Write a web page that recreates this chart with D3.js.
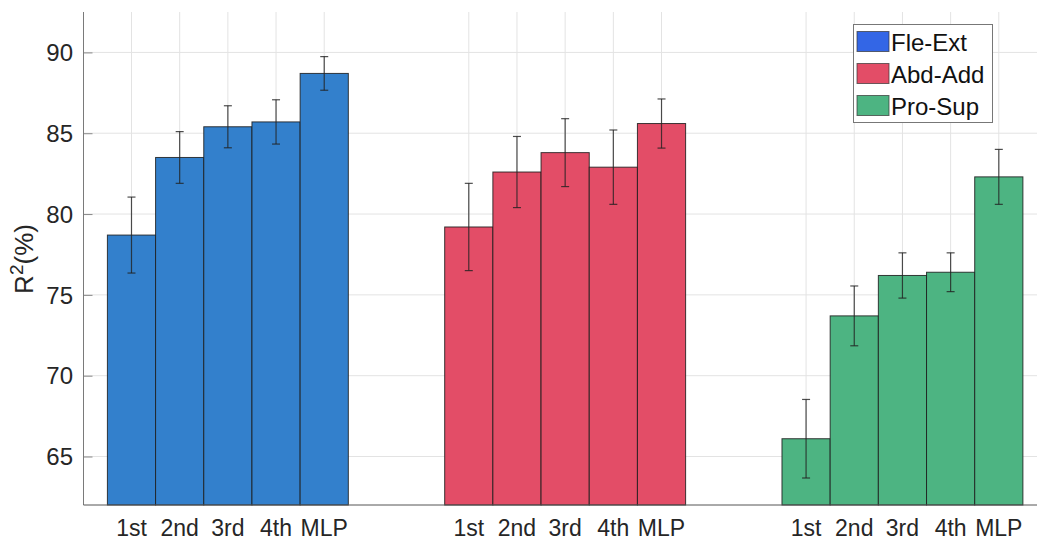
<!DOCTYPE html>
<html>
<head>
<meta charset="utf-8">
<script src="https://cdn.jsdelivr.net/npm/d3@7"></script>
<style>
  html, body { margin: 0; padding: 0; background: #fff; }
  svg { display: block; font-family: "Liberation Sans", Arial, Helvetica, sans-serif; }
</style>
</head>
<body>
<svg id="chart" width="1037" height="541"></svg>
<script>
// Motion groups and the feature/model levels within each group
const groups = ["Fle-Ext", "Abd-Add", "Pro-Sup"];
const levels = ["1st", "2nd", "3rd", "4th", "MLP"];

// Mean R^2 (%) per level, one array per group
const fleExt = [78.7, 83.5, 85.4, 85.7, 88.7];
const abdAdd = [79.2, 82.6, 83.8, 82.9, 85.6];
const proSup = [66.1, 73.7, 76.2, 76.4, 82.3];

// Standard deviation (half-length of each error bar)
const fleExtErr = [2.35, 1.6, 1.3, 1.37, 1.04];
const abdAddErr = [2.7, 2.2, 2.1, 2.3, 1.52];
const proSupErr = [2.43, 1.85, 1.4, 1.2, 1.7];

const yTicks = [65, 70, 75, 80, 85, 90];

const barColors = ["#3380CC", "#E34D67", "#4DB482"];
const legendColors = ["#3366E6", "#E34D67", "#4DB482"];

const series = [fleExt, abdAdd, proSup];
const seriesErr = [fleExtErr, abdAddErr, proSupErr];

const svg = d3.select("#chart");
const W = 1037;
const plotLeft = 83.5, plotTop = 12, plotBottom = 505;

// Groups sit at 1, 2, 3 on a continuous axis; bars fill 5/7 of a unit
const x = d3.scaleLinear().domain([0.572, 3.428]).range([plotLeft, 1046.8]);
const y = d3.scaleLinear().domain([62, 92.5]).range([plotBottom, plotTop]);
const barW = x(1 / 7) - x(0);
const barX = (g, i) => x(g + 1 + (i - 2) / 7);

const bars = [];
series.forEach((vals, g) => {
  vals.forEach((v, i) => {
    bars.push({ g, i, v, e: seriesErr[g][i], cx: barX(g, i) });
  });
});

// Grid
const grid = svg.append("g");
grid.selectAll("line.h").data(yTicks).join("line")
  .attr("class", "h")
  .attr("x1", plotLeft).attr("x2", W)
  .attr("y1", d => y(d)).attr("y2", d => y(d))
  .attr("stroke", "#e3e3e3").attr("stroke-width", 1);
grid.selectAll("line.v").data(bars).join("line")
  .attr("class", "v")
  .attr("x1", d => d.cx).attr("x2", d => d.cx)
  .attr("y1", plotTop).attr("y2", plotBottom)
  .attr("stroke", "#e3e3e3").attr("stroke-width", 1);

// Bars
svg.append("g").selectAll("rect").data(bars).join("rect")
  .attr("x", d => d.cx - barW / 2)
  .attr("y", d => y(d.v))
  .attr("width", barW)
  .attr("height", d => y(62) - y(d.v))
  .attr("fill", d => barColors[d.g])
  .attr("stroke", "#1c1c1c")
  .attr("stroke-opacity", 0.85)
  .attr("stroke-width", 1);

// Error bars
const eb = svg.append("g").attr("stroke", "#222").attr("stroke-opacity", 0.8).attr("stroke-width", 1.2);
eb.selectAll("line.stem").data(bars).join("line")
  .attr("class", "stem")
  .attr("x1", d => d.cx).attr("x2", d => d.cx)
  .attr("y1", d => y(d.v + d.e)).attr("y2", d => y(d.v - d.e));
eb.selectAll("line.capT").data(bars).join("line")
  .attr("class", "capT")
  .attr("x1", d => d.cx - 4).attr("x2", d => d.cx + 4)
  .attr("y1", d => y(d.v + d.e)).attr("y2", d => y(d.v + d.e));
eb.selectAll("line.capB").data(bars).join("line")
  .attr("class", "capB")
  .attr("x1", d => d.cx - 4).attr("x2", d => d.cx + 4)
  .attr("y1", d => y(d.v - d.e)).attr("y2", d => y(d.v - d.e));

// Y axis (inward ticks)
const yAxis = svg.append("g").attr("transform", `translate(${plotLeft},0)`)
  .call(d3.axisRight(y).tickValues(yTicks).tickSize(9).tickFormat(""));
yAxis.select(".domain").remove();
yAxis.selectAll(".tick line").attr("stroke", "#888");
svg.append("line").attr("x1", plotLeft).attr("x2", plotLeft).attr("y1", plotTop).attr("y2", plotBottom)
  .attr("stroke", "#7a7a7a").attr("stroke-width", 1);
svg.append("g").selectAll("text").data(yTicks).join("text")
  .attr("x", 73).attr("y", d => y(d)).attr("dy", "0.36em")
  .attr("text-anchor", "end").attr("font-size", 24).attr("fill", "#262626")
  .text(d => d);

// X baseline
svg.append("line").attr("x1", plotLeft).attr("x2", W).attr("y1", plotBottom).attr("y2", plotBottom)
  .attr("stroke", "#555").attr("stroke-width", 1);

// Level labels under each bar
svg.append("g").selectAll("text").data(bars).join("text")
  .attr("x", d => d.cx).attr("y", 536)
  .attr("text-anchor", "middle").attr("font-size", 23).attr("fill", "#262626")
  .text(d => levels[d.i]);

// Y axis title
const yt = svg.append("text")
  .attr("transform", "translate(33,259) rotate(-90)")
  .attr("text-anchor", "middle").attr("font-size", 26).attr("fill", "#262626");
yt.append("tspan").text("R");
yt.append("tspan").attr("font-size", 19).attr("dy", -10).text("2");
yt.append("tspan").attr("dy", 10).text("(%)");

// Legend
const lg = svg.append("g");
lg.append("rect").attr("x", 853.5).attr("y", 24.5).attr("width", 139).attr("height", 98)
  .attr("fill", "#fff").attr("stroke", "#777").attr("stroke-width", 1);
const items = lg.selectAll("g.item").data(groups).join("g")
  .attr("class", "item")
  .attr("transform", (d, i) => `translate(0,${31.5 + i * 32})`);
items.append("rect").attr("x", 857).attr("y", 0).attr("width", 32).attr("height", 20)
  .attr("fill", (d, i) => legendColors[i]).attr("stroke", "#333").attr("stroke-opacity", 0.7);
items.append("text").attr("x", 891).attr("y", 19)
  .attr("font-size", 24).attr("fill", "#111")
  .text(d => d);
</script>
</body>
</html>
